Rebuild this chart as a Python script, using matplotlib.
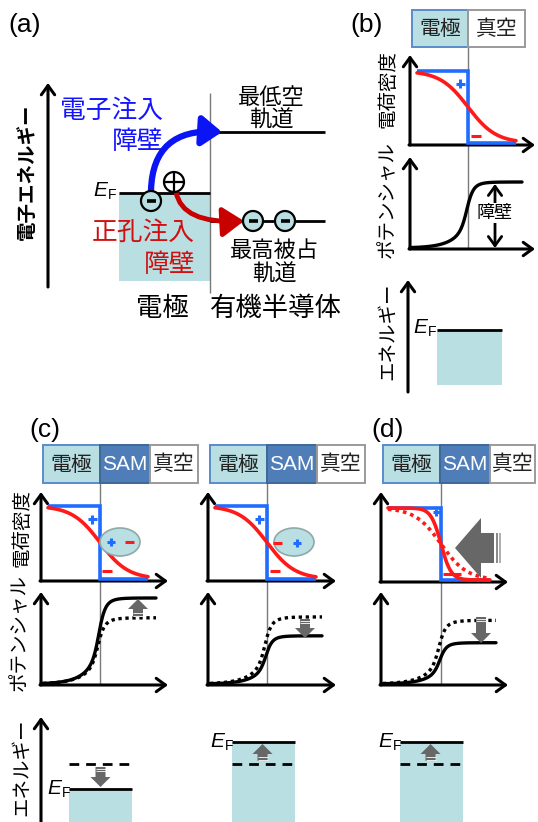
import numpy as np
import matplotlib
matplotlib.use('Agg')
import matplotlib.pyplot as plt
from matplotlib.patches import Rectangle, Circle, Ellipse, Polygon, FancyArrowPatch
from matplotlib.path import Path

# ---------------- data ----------------
panel_labels = ['(a)', '(b)', '(c)', '(d)']
header_labels = ['電極', 'SAM', '真空']
axis_labels = ['電荷密度', 'ポテンシャル', 'エネルギー']
a_energy_label = '電子エネルギー'
a_blue_text = ['電子注入', '障壁']
a_red_text = ['正孔注入', '障壁']
a_lumo_text = ['最低空', '軌道']
a_homo_text = ['最高被占', '軌道']
a_bottom_text = ['電極', '有機半導体']
barrier_label = '障壁'
# relative potential plateau heights (columns b, c-left, c-right, d)
potential_solid = [1.00, 1.00, 0.56, 0.48]
potential_dotted = [None, 0.77, 0.78, 0.74]
# Fermi level shift relative to dashed reference (pixels, up positive)
ef_shift = [0, -25, 22, 22]
# charge density transition widths
charge_width_solid = [14, 14, 14, 5]
charge_width_dotted = [None, None, None, 13]

JP = ['Noto Sans CJK JP', 'DejaVu Sans']
LAT = ['Liberation Sans', 'DejaVu Sans']
CYAN = '#b9dfe3'
SAMC = '#4e7db8'
BLUE = '#1f6dff'
RED = '#ff1a1a'
GRAY = '#676767'

fig = plt.figure(figsize=(5.38, 8.22), dpi=100)
ax = fig.add_axes([0, 0, 1, 1])
ax.set_xlim(0, 538)
ax.set_ylim(822, 0)
ax.axis('off')


def line(xs, ys, **kw):
    kw.setdefault('color', 'k')
    kw.setdefault('lw', 2.2)
    kw.setdefault('solid_capstyle', 'butt')
    ax.plot(xs, ys, **kw)


def axis_arrow(x0, y0, x1, y1, lw=2.2):
    ax.annotate('', xy=(x1, y1), xytext=(x0, y0),
                arrowprops=dict(arrowstyle='->,head_length=0.55,head_width=0.4',
                                lw=lw, color='k', shrinkA=0, shrinkB=0,
                                mutation_scale=12))


def plus(x, y, s, color, lw=2.2):
    line([x - s, x + s], [y, y], color=color, lw=lw, zorder=9)
    line([x, x], [y - s, y + s], color=color, lw=lw, zorder=9)


def minus(x, y, s, color, lw=2.2):
    line([x - s, x + s], [y, y], color=color, lw=lw, zorder=9)


def ef_label(x, y):
    ax.text(x, y, 'E', style='italic', fontsize=15, family=LAT,
            ha='left', va='center')
    ax.text(x + 14.5, y + 5, 'F', fontsize=10, family=LAT, ha='left', va='center')


def block_arrow(x, y_tail, y_tip, shaft=10, head=20, hl=10):
    d = 1 if y_tip > y_tail else -1
    yb = y_tip - d * hl
    pts = [(x - shaft / 2, y_tail), (x - shaft / 2, yb), (x - head / 2, yb),
           (x, y_tip), (x + head / 2, yb), (x + shaft / 2, yb), (x + shaft / 2, y_tail)]
    ax.add_patch(Polygon(pts, closed=True, fc=GRAY, ec='none', zorder=6))
    for k in range(2):
        yy = y_tail + d * (1.5 + 2.5 * k)
        line([x - shaft / 2, x + shaft / 2], [yy, yy], color='white', lw=0.6, zorder=7)


def potential(x, xc, base, height, wl=14, wr=7, narrow=3.0, a=0.55):
    m = wl / (wl + wr)
    broad = np.where(x < xc, m * np.exp((x - xc) / wl),
                     1 - (1 - m) * np.exp(-(x - xc) / wr))
    sharp = 1 / (1 + np.exp(-(x - xc) / narrow))
    return base - height * (a * broad + (1 - a) * sharp)


def sigmoid(x, xc, top, bot, w):
    return top + (bot - top) / (1 + np.exp(-(x - xc) / w))


def headers(boxes, y0, y1):
    for (xa, xb, lab) in boxes:
        if lab == '電極':
            fc, ec, tc, fam = CYAN, '#5a8ccc', '#222222', JP
        elif lab == 'SAM':
            fc, ec, tc, fam = SAMC, '#3d6898', 'white', LAT
        else:
            fc, ec, tc, fam = 'white', '#9a9a9a', '#222222', JP
        ax.add_patch(Rectangle((xa, y0), xb - xa, y1 - y0, fc=fc, ec=ec, lw=1.4, zorder=2))
        ax.text((xa + xb) / 2, (y0 + y1) / 2 + 0.5, lab, fontsize=15, family=fam, color=tc,
                ha='center', va='center', zorder=3)


# ================= panel (a) =================
ax.text(25, 25, panel_labels[0], fontsize=19, family=LAT, ha='center', va='center')
axis_arrow(48, 287, 48, 83)
ax.text(27, 172, a_energy_label, rotation=90, fontsize=14, family=JP, weight='bold',
        ha='center', va='center')
line([210, 210], [93, 293], color='#7a7a7a', lw=1.0)
ax.add_patch(Rectangle((119, 193), 91, 88, fc=CYAN, ec='none'))
line([119, 210], [193, 193], lw=2)
line([215, 325], [132, 132], lw=2)
line([210, 325], [221, 221], lw=2)
ef_label(93, 190)

bp = Path([(151, 190), (153, 128), (222, 132)], [Path.MOVETO, Path.CURVE3, Path.CURVE3])
ax.add_patch(FancyArrowPatch(path=bp, arrowstyle='-|>,head_length=0.6,head_width=0.45',
                             mutation_scale=20, lw=4.5, color='#0a14f5', zorder=4))
rp = Path([(176, 192), (182, 224), (244, 221)], [Path.MOVETO, Path.CURVE3, Path.CURVE3])
ax.add_patch(FancyArrowPatch(path=rp, arrowstyle='-|>,head_length=0.65,head_width=0.45',
                             mutation_scale=20, lw=3.5, color='#c80000', zorder=4))

for (cx, cy) in [(151, 201), (253, 221), (285, 221)]:
    ax.add_patch(Circle((cx, cy), 10, fc=CYAN, ec='k', lw=1.6, zorder=5))
    minus(cx, cy, 4.5, 'k', lw=2.6)
ax.add_patch(Circle((174, 182), 10, fc='white', ec='k', lw=1.6, zorder=5))
line([164, 184], [182, 182], lw=1.6, zorder=6)
line([174, 174], [172, 192], lw=1.6, zorder=6)

ax.text(163, 111, a_blue_text[0], fontsize=18.5, family=JP, color='#1414ff', ha='right', va='center')
ax.text(163, 142, a_blue_text[1], fontsize=18.5, family=JP, color='#1414ff', ha='right', va='center')
ax.text(195, 233, a_red_text[0], fontsize=18.5, family=JP, color='#d01010', ha='right', va='center')
ax.text(195, 265, a_red_text[1], fontsize=18.5, family=JP, color='#d01010', ha='right', va='center')
ax.text(271, 98, a_lumo_text[0], fontsize=16, family=JP, ha='center', va='center')
ax.text(271, 120, a_lumo_text[1], fontsize=16, family=JP, ha='center', va='center')
ax.text(274, 250, a_homo_text[0], fontsize=16, family=JP, ha='center', va='center')
ax.text(274, 274, a_homo_text[1], fontsize=16, family=JP, ha='center', va='center')
ax.text(162, 308, a_bottom_text[0], fontsize=19, family=JP, ha='center', va='center')
ax.text(276, 308, a_bottom_text[1], fontsize=19, family=JP, ha='center', va='center')

# ================= columns b, c-left, c-right, d =================
cols = [
    dict(ox=410, xl=468, xa=535, cy0=145, cyt=55, ctop=71, cl=417, cr=516,
         py0=249, pyt=157, pr=522, H=66),
    dict(ox=41, xl=100, xa=168, cy0=581, cyt=492, ctop=506, cl=48, cr=148,
         py0=685, pyt=592, pr=156, H=86),
    dict(ox=208, xl=267, xa=336, cy0=581, cyt=492, ctop=506, cl=215, cr=316,
         py0=685, pyt=592, pr=322, H=86),
    dict(ox=381, xl=441, xa=508, cy0=582, cyt=492, ctop=508, cl=388, cr=490,
         py0=685, pyt=592, pr=496, H=86),
]

ax.text(367, 25, panel_labels[1], fontsize=19, family=LAT, ha='center', va='center')
ax.text(45, 430, panel_labels[2], fontsize=19, family=LAT, ha='center', va='center')
ax.text(388, 430, panel_labels[3], fontsize=19, family=LAT, ha='center', va='center')

headers([(412, 468, header_labels[0]), (468, 525, header_labels[2])], 10, 47)
headers([(43, 100, header_labels[0]), (100, 150, header_labels[1]), (150, 198, header_labels[2])], 445, 483)
headers([(210, 267, header_labels[0]), (267, 317, header_labels[1]), (317, 365, header_labels[2])], 445, 483)
headers([(383, 440, header_labels[0]), (440, 490, header_labels[1]), (490, 535, header_labels[2])], 445, 483)

for i, c in enumerate(cols):
    ox, xl = c['ox'], c['xl']
    top_box = 47 if i == 0 else 483
    line([xl, xl], [top_box, c['py0']], color='#7a7a7a', lw=1.0, zorder=1)
    # --- charge density ---
    axis_arrow(ox, c['cy0'], ox, c['cyt'])
    axis_arrow(ox - 1, c['cy0'], c['xa'], c['cy0'])
    cb = c['cy0'] - 2
    line([c['cl'], xl, xl, c['cr']], [c['ctop'], c['ctop'], cb, cb], color=BLUE, lw=2.6,
         solid_joinstyle='miter', zorder=3)
    xs = np.linspace(c['cl'], c['cr'], 200)
    line(xs, sigmoid(xs, xl, c['ctop'], cb, charge_width_solid[i]), color=RED, lw=2.6,
         solid_capstyle='round', zorder=4)
    if charge_width_dotted[i]:
        line(xs, sigmoid(xs, xl, c['ctop'], cb, charge_width_dotted[i]), color=RED, lw=2.6,
             ls=(0, (1, 1.1)), zorder=4)
    # --- potential ---
    axis_arrow(ox, c['py0'], ox, c['pyt'])
    axis_arrow(ox - 1, c['py0'], c['xa'], c['py0'])
    xs = np.linspace(ox, c['pr'], 400)
    base = c['py0'] - 1
    line(xs, potential(xs, xl - 1, base, c['H'] * potential_solid[i]), lw=2.4,
         solid_capstyle='round', zorder=4)
    if potential_dotted[i]:
        xs2 = np.linspace(ox + 2, c['pr'], 400)
        line(xs2, potential(xs2, xl - 2, base, c['H'] * potential_dotted[i], wl=15, wr=8),
             lw=2.4, ls=(0, (1, 1.1)), zorder=4)

# signs in b
plus(460, 84, 4.5, BLUE)
minus(476, 136, 5, RED)
# signs in c-left
plus(92, 519, 4.5, BLUE)
minus(107, 571, 5, RED)
ax.add_patch(Ellipse((120, 542), 40, 28, fc=CYAN, ec='#8fa8a8', lw=1.2, zorder=5))
plus(111, 542, 4, BLUE)
minus(129, 542, 4.5, RED)
# signs in c-right
plus(259, 519, 4.5, BLUE)
minus(275, 571, 5, RED)
ax.add_patch(Ellipse((294, 542), 40, 28, fc=CYAN, ec='#8fa8a8', lw=1.2, zorder=5))
minus(277, 543, 4.5, RED)
plus(297, 543, 4, BLUE)
# signs in d
plus(436, 512, 3.5, BLUE)
minus(452, 574, 9, RED)

# big left arrow in d
ax.add_patch(Polygon([(455, 548), (481, 518), (481, 533), (494, 533), (494, 563),
                      (481, 563), (481, 578)], closed=True, fc=GRAY, ec='none', zorder=6))
ax.add_patch(Rectangle((495.5, 533), 2, 30, fc='#8a8a8a', ec='none', zorder=6))
ax.add_patch(Rectangle((499, 533), 1.5, 30, fc='#b0b0b0', ec='none', zorder=6))

# barrier double arrow in b
ax.annotate('', xy=(495, 184), xytext=(495, 248),
            arrowprops=dict(arrowstyle='<->,head_length=0.55,head_width=0.4', lw=2,
                            color='k', shrinkA=0, shrinkB=0, mutation_scale=12))
ax.text(495, 213, barrier_label, fontsize=13, family=JP, ha='center', va='center',
        bbox=dict(fc='white', ec='none', pad=1), zorder=5)

# potential gray arrows
block_arrow(138, 617, 599)
block_arrow(305, 619, 638)
block_arrow(481, 617, 643)

# ================= energy panels =================
axis_arrow(408, 392, 408, 280)
ax.add_patch(Rectangle((437, 330), 65, 55, fc=CYAN, ec='none'))
line([437, 502], [330, 330], lw=2)
ef_label(413, 327)

axis_arrow(41, 822, 41, 717)
ref_y = 764
energy_rects = [(69, 132), (232, 295), (400, 463)]
ef_xs = [47, 210, 378]
for k, (xa, xb) in enumerate(energy_rects):
    ef_y = ref_y - ef_shift[k + 1]
    ax.add_patch(Rectangle((xa, ef_y), xb - xa, 822 - ef_y, fc=CYAN, ec='none'))
    line([xa, xb], [ef_y, ef_y], lw=2)
    line([xa, xb], [ref_y, ref_y], lw=2, ls=(0, (3.5, 2.5)))
    ef_label(ef_xs[k], ef_y - 1)
    xm = (xa + xb) / 2 + (0 if k == 0 else -1)
    if ef_shift[k + 1] < 0:
        block_arrow(xm, ref_y + 3, ef_y - 2)
    else:
        block_arrow(xm, ref_y - 3, ef_y + 2)

# ================= rotated axis labels =================
for (x, yc, k) in [(388, 89, 0), (388, 199, 1), (388, 331, 2),
                   (22, 528, 0), (20, 632, 1), (22, 767, 2)]:
    ax.text(x, yc, axis_labels[k], rotation=90, fontsize=14, family=JP,
            ha='center', va='center')

fig.savefig('out.png', dpi=100)
